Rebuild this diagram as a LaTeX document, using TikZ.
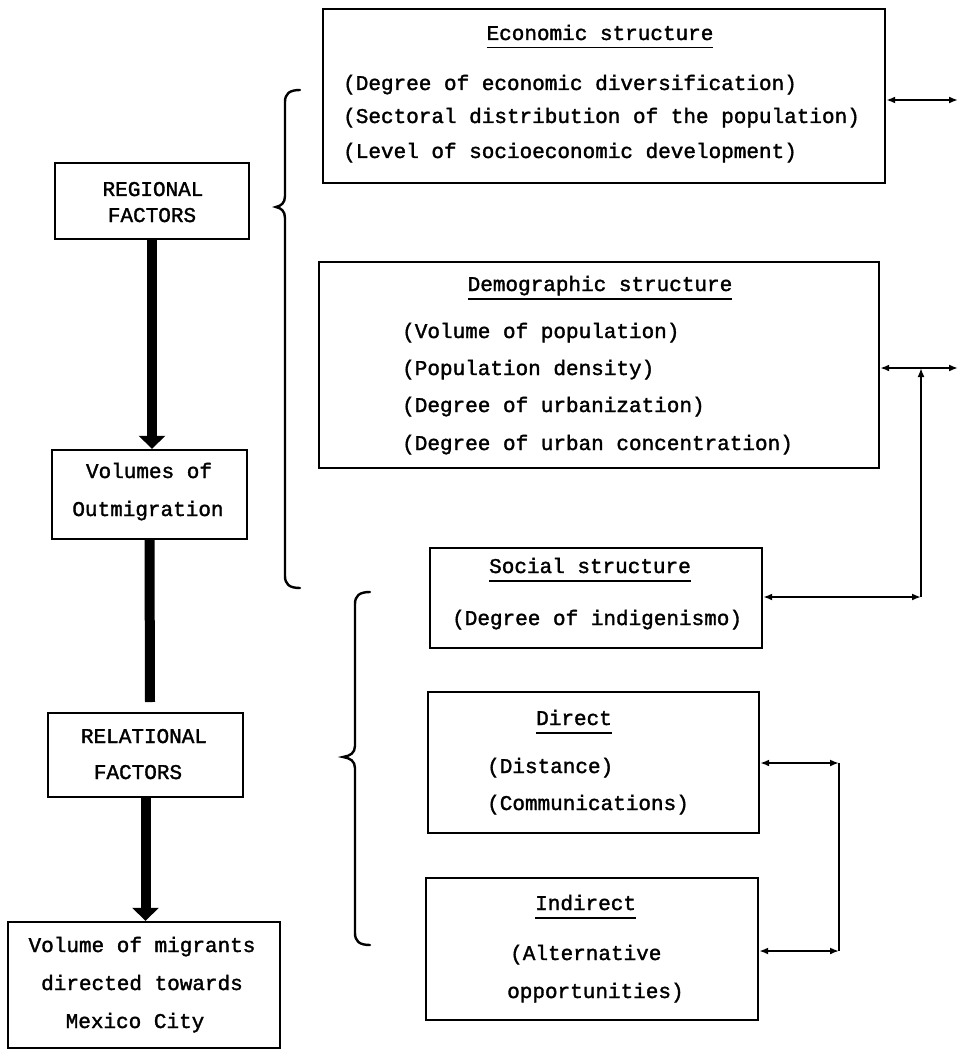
\documentclass[tikz,border=0pt]{standalone}
\usepackage{fontspec}
\setmainfont{Liberation Mono}[FakeBold=1.6]
\usetikzlibrary{arrows.meta}
\newcommand{\ttl}[1]{\setbox0\hbox{#1}\rlap{\copy0}\rule[-8.5pt]{\wd0}{1.6pt}}
\begin{document}
\begin{tikzpicture}[x=1pt,y=-1pt,
  box/.style={draw, line width=2.4pt, inner sep=0pt},
  txt/.style={font=\fontsize{21}{25}\selectfont, inner sep=0pt, anchor=base west},
  ctxt/.style={font=\fontsize{21}{25}\selectfont, inner sep=0pt, anchor=base},
  conn/.style={line width=1.8pt},
  bi/.style={conn, {Latex[length=9pt,width=7pt]}-{Latex[length=9pt,width=7pt]}},
  up/.style={conn, -{Latex[length=9pt,width=7pt]}},
  thickarrow/.style={line width=10pt, -{Triangle[length=13pt,width=26pt]}},
  thickline/.style={line width=10pt},
  brace/.style={line width=2.4pt, line cap=round}]
\useasboundingbox (0,0) rectangle (961,1051);

% ---------- right boxes ----------
\node[box, minimum width=562pt, minimum height=174pt] (econ) at (604,96) {};
\node[box, minimum width=560pt, minimum height=206pt] (demo) at (599,365) {};
\node[box, minimum width=332pt, minimum height=100pt] (social) at (596,598) {};
\node[box, minimum width=331pt, minimum height=141pt] (direct) at (593.5,762.5) {};
\node[box, minimum width=332pt, minimum height=142pt] (indirect) at (592,949) {};

% ---------- left boxes ----------
\node[box, minimum width=194pt, minimum height=76pt] (reg) at (152,201) {};
\node[box, minimum width=195pt, minimum height=89pt] (vol) at (149.5,494.5) {};
\node[box, minimum width=195pt, minimum height=84pt] (rel) at (145.5,755) {};
\node[box, minimum width=272pt, minimum height=126pt] (mig) at (144,985) {};

% ---------- texts ----------
\node[ctxt] (econT) at (600,40) {\ttl{Economic structure}};
\node[txt] (econ1) at (343,90) {(Degree of economic diversification)};
\node[txt] (econ2) at (343,123) {(Sectoral distribution of the population)};
\node[txt] (econ3) at (343,158) {(Level of socioeconomic development)};

\node[ctxt] (demoT) at (600,291) {\ttl{Demographic structure}};
\node[txt] (demo1) at (402,338) {(Volume of population)};
\node[txt] (demo2) at (402,375) {(Population density)};
\node[txt] (demo3) at (402,412) {(Degree of urbanization)};
\node[txt] (demo4) at (402,450) {(Degree of urban concentration)};

\node[txt] (socialT) at (489,573) {\ttl{Social structure}};
\node[txt] (social1) at (452,625) {(Degree of indigenismo)};

\node[txt] (directT) at (536,725) {\ttl{Direct}};
\node[txt] (direct1) at (487,773) {(Distance)};
\node[txt] (direct2) at (487,810) {(Communications)};

\node[txt] (indirectT) at (535,910) {\ttl{Indirect}};
\node[txt] (indirect1) at (510,960) {(Alternative};
\node[txt] (indirect2) at (507,998) {opportunities)};

\node[ctxt] (reg1) at (153,196) {REGIONAL};
\node[ctxt] (reg2) at (152,222) {FACTORS};
\node[ctxt] (vol1) at (149,478) {Volumes of};
\node[ctxt] (vol2) at (148,516) {Outmigration};
\node[ctxt] (rel1) at (144,743) {RELATIONAL};
\node[ctxt] (rel2) at (138,779) {FACTORS};
\node[ctxt] (mig1) at (142,952) {Volume of migrants};
\node[ctxt] (mig2) at (142,990) {directed towards};
\node[ctxt] (mig3) at (135,1028) {Mexico City};

% ---------- left column thick connectors ----------
\coordinate (gap) at (150,702);
\draw[thickarrow] (reg.south) -- (reg.south |- vol.north);
\draw[thickline] (vol.south) -- (gap);
\draw[thickarrow] (rel.south) -- (rel.south |- mig.north);

% ---------- right connectors ----------
\coordinate (e1) at (958,100);
\coordinate (d1) at (958,368);
\coordinate (j1) at (921,368);
\coordinate (c1) at (921,597);
\coordinate (c2) at (839,763);
\coordinate (c3) at (839,951);
\draw[bi] (econ.east |- e1) -- (e1);
\draw[bi] (demo.east |- d1) -- (d1);
\draw[bi] (social.east |- c1) -- (c1);
\draw[up] (c1) -- (j1);
\draw[bi] (direct.east |- c2) -- (c2);
\draw[conn] (c2) -- (c3);
\draw[bi] (indirect.east |- c3) -- (c3);

% ---------- braces ----------
\draw[brace] (300,90) .. controls (289,90) and (285,94) .. (285,102)
  -- (285,196) .. controls (285,203) and (281,206) .. (276,207)
  .. controls (281,208) and (285,211) .. (285,218)
  -- (285,576) .. controls (285,584) and (289,588) .. (300,588);
\draw[brace] (370,592) .. controls (359,592) and (355,596) .. (355,604)
  -- (355,746) .. controls (355,753) and (350,756) .. (343,757)
  .. controls (350,758) and (355,761) .. (355,768)
  -- (355,933) .. controls (355,941) and (359,945) .. (370,945);
\end{tikzpicture}
\end{document}
